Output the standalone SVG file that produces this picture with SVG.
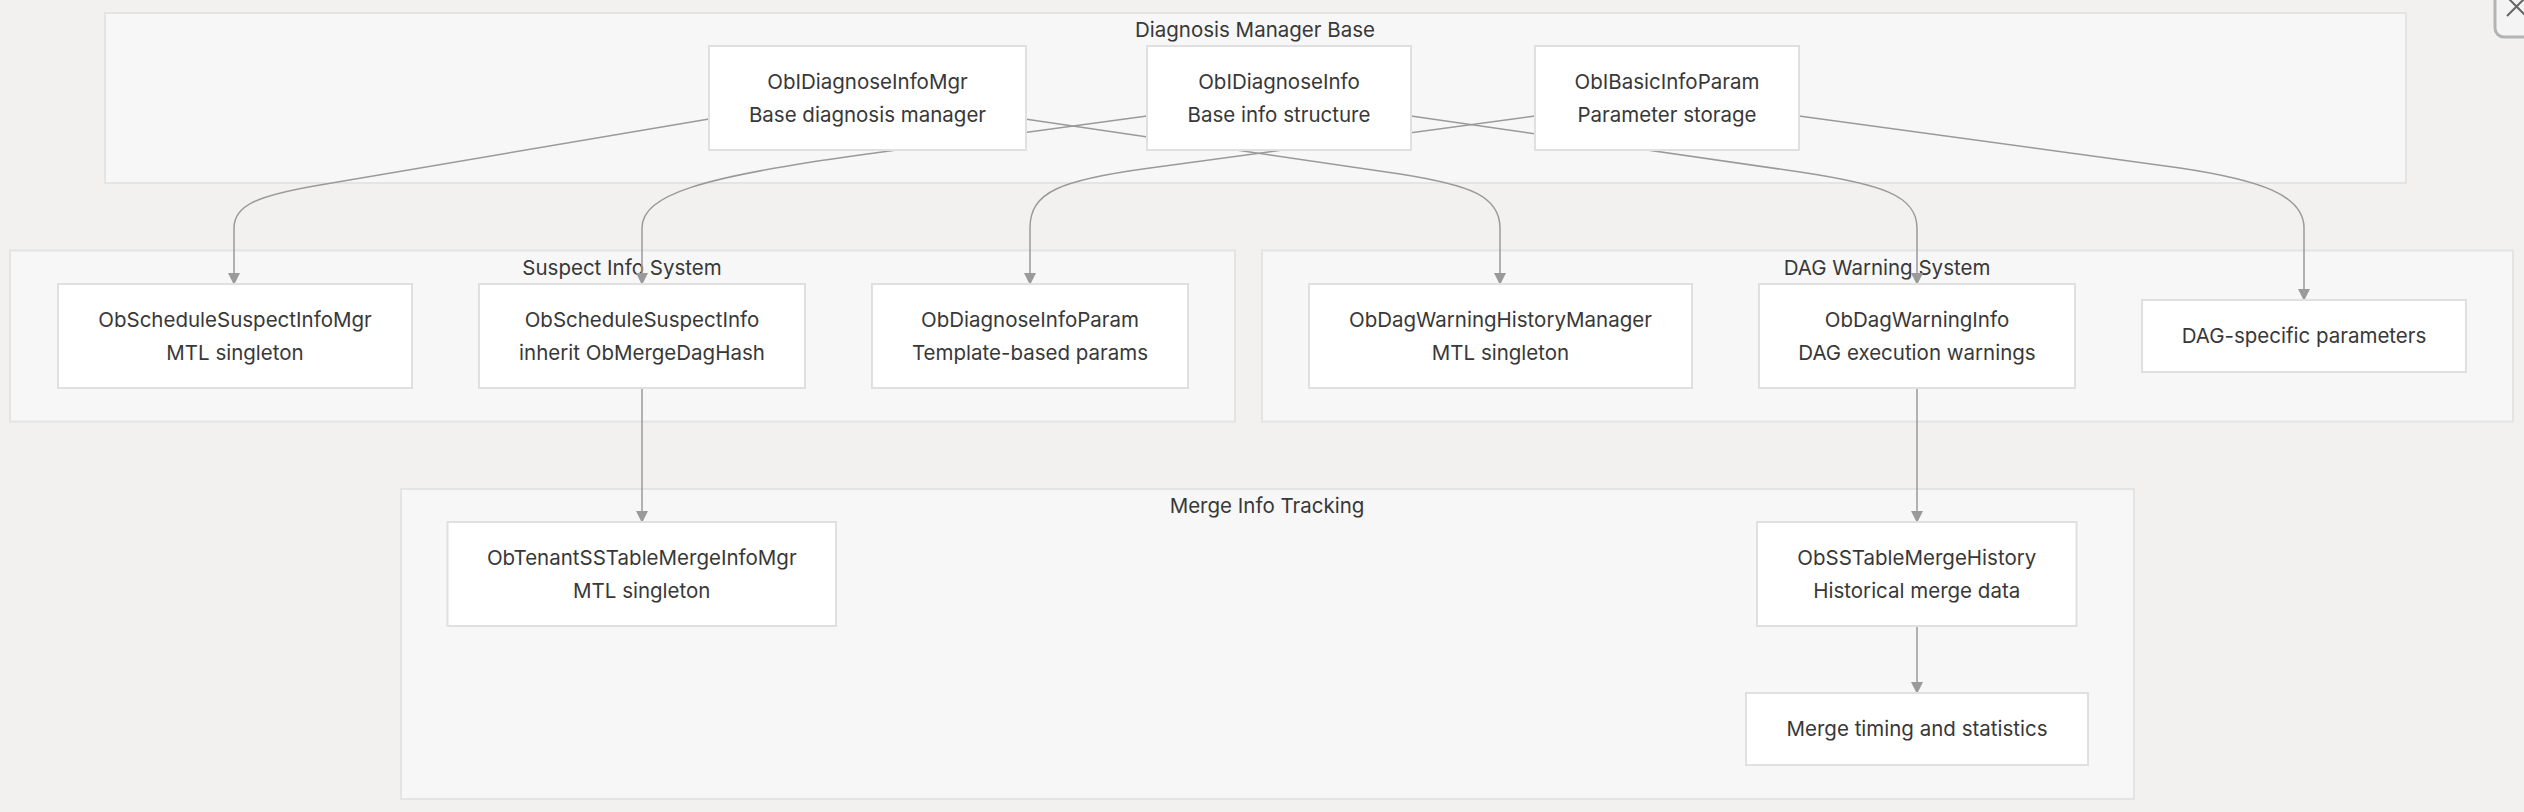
<svg xmlns="http://www.w3.org/2000/svg" width="2524" height="812" viewBox="0 0 2524 812">
<defs>
<style>
.cl{fill:#f7f7f7;stroke:#e4e4e4;stroke-width:2}
.nd{fill:#ffffff;stroke:#e0e0e0;stroke-width:2}
.t{font-family:Inter,"Noto Sans","Liberation Sans",sans-serif;font-size:20.5px;fill:#383838;text-anchor:middle}
.e{fill:none;stroke:#9a9a9a;stroke-width:1.5}
</style>
<marker id="ar" viewBox="0 0 12 12" refX="11" refY="6" markerWidth="12" markerHeight="12" markerUnits="userSpaceOnUse" orient="auto">
<path d="M0,0 L12,6 L0,12 z" fill="#9a9a9a"/>
</marker>
</defs>
<rect x="0" y="0" width="2524" height="812" fill="#f2f1ef"/>
<g id="clusters">
<g id="cluster-base"><rect class="cl" x="105" y="13" width="2301" height="170"/><text class="t" x="1255" y="37">Diagnosis Manager Base</text></g>
<g id="cluster-suspect"><rect class="cl" x="10" y="250.5" width="1225" height="171"/><text class="t" x="622" y="275">Suspect Info System</text></g>
<g id="cluster-dag"><rect class="cl" x="1262" y="250.5" width="1251" height="171"/><text class="t" x="1887" y="275">DAG Warning System</text></g>
<g id="cluster-merge"><rect class="cl" x="401" y="489" width="1733" height="310"/><text class="t" x="1267" y="513">Merge Info Tracking</text></g>
</g>
<g id="connectors">
<path class="e" marker-end="url(#ar)" d="M709,119 L320,185 C255,196 234,206 234,228 V284"/>
<path class="e" marker-end="url(#ar)" d="M1147,116 L860,155 C700,177 642,195 642,228 V284"/>
<path class="e" marker-end="url(#ar)" d="M1535,116 L1150,168 C1060,180 1030,192 1030,228 V284"/>
<path class="e" marker-end="url(#ar)" d="M1025,119 L1400,174 C1470,185 1500,196 1500,228 V284"/>
<path class="e" marker-end="url(#ar)" d="M1411,116 L1800,172 C1880,184 1917,195 1917,228 V284"/>
<path class="e" marker-end="url(#ar)" d="M1799,116 L2180,168 C2260,180 2304,195 2304,228 V300"/>
<path class="e" marker-end="url(#ar)" d="M642,388 V522"/>
<path class="e" marker-end="url(#ar)" d="M1917,388 V522"/>
<path class="e" marker-end="url(#ar)" d="M1917,626 V693"/>
</g>
<g id="n-mgr"><rect class="nd" x="709" y="46" width="317" height="104"/><text class="t" x="867.5" y="89">ObIDiagnoseInfoMgr</text><text class="t" x="867.5" y="122">Base diagnosis manager</text></g>
<g id="n-info"><rect class="nd" x="1147" y="46" width="264" height="104"/><text class="t" x="1279" y="89">ObIDiagnoseInfo</text><text class="t" x="1279" y="122">Base info structure</text></g>
<g id="n-basic"><rect class="nd" x="1535" y="46" width="264" height="104"/><text class="t" x="1667" y="89">ObIBasicInfoParam</text><text class="t" x="1667" y="122">Parameter storage</text></g>
<g id="n-ssim"><rect class="nd" x="58" y="284" width="354" height="104"/><text class="t" x="235" y="327">ObScheduleSuspectInfoMgr</text><text class="t" x="235" y="360">MTL singleton</text></g>
<g id="n-ssi"><rect class="nd" x="479" y="284" width="326" height="104"/><text class="t" x="642" y="327">ObScheduleSuspectInfo</text><text class="t" x="642" y="360">inherit ObMergeDagHash</text></g>
<g id="n-dip"><rect class="nd" x="872" y="284" width="316" height="104"/><text class="t" x="1030" y="327">ObDiagnoseInfoParam</text><text class="t" x="1030" y="360">Template-based params</text></g>
<g id="n-dwhm"><rect class="nd" x="1309" y="284" width="383" height="104"/><text class="t" x="1500.5" y="327">ObDagWarningHistoryManager</text><text class="t" x="1500.5" y="360">MTL singleton</text></g>
<g id="n-dwi"><rect class="nd" x="1759" y="284" width="316" height="104"/><text class="t" x="1917" y="327">ObDagWarningInfo</text><text class="t" x="1917" y="360">DAG execution warnings</text></g>
<g id="n-dsp"><rect class="nd" x="2142" y="300" width="324" height="72"/><text class="t" x="2304" y="343">DAG-specific parameters</text></g>
<g id="n-tsm"><rect class="nd" x="447.5" y="522" width="388.5" height="104"/><text class="t" x="641.75" y="565">ObTenantSSTableMergeInfoMgr</text><text class="t" x="641.75" y="598">MTL singleton</text></g>
<g id="n-smh"><rect class="nd" x="1757" y="522" width="319.5" height="104"/><text class="t" x="1916.75" y="565">ObSSTableMergeHistory</text><text class="t" x="1916.75" y="598">Historical merge data</text></g>
<g id="n-mts"><rect class="nd" x="1746" y="693" width="342" height="72"/><text class="t" x="1917" y="736">Merge timing and statistics</text></g>
<g id="close-icon"><rect x="2495" y="-12" width="44" height="49" rx="9" fill="#f4f4f4" stroke="#b3b3b3" stroke-width="3"/><path d="M2507,-3 L2526,16 M2507,16 L2526,-3" stroke="#666" stroke-width="2" fill="none"/></g>
</svg>
